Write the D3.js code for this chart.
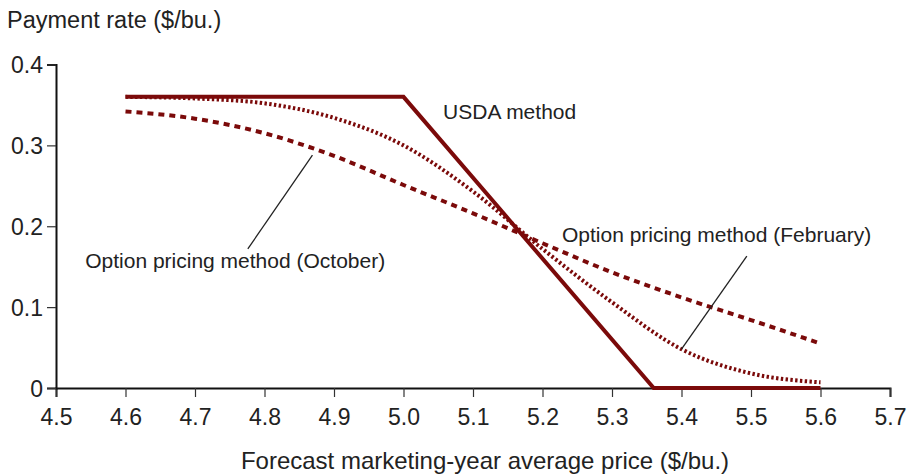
<!DOCTYPE html>
<html>
<head>
<meta charset="utf-8">
<script src="https://cdn.jsdelivr.net/npm/d3@7"></script>
<style>
  body { margin: 0; background: #fff; }
  svg { display: block; font-family: "Liberation Sans", Arial, sans-serif; }
</style>
</head>
<body>
<svg id="chart" width="908" height="474"></svg>
<script>
// data
const priceTicks = [4.5, 4.6, 4.7, 4.8, 4.9, 5.0, 5.1, 5.2, 5.3, 5.4, 5.5, 5.6, 5.7]
const rateTicks = [0, 0.1, 0.2, 0.3, 0.4]
const usdaPrice = [4.6, 5.0, 5.36, 5.6]
const usdaRate = [0.36, 0.36, 0, 0]
const optPrice = [4.6, 4.7, 4.8, 4.9, 5.0, 5.1, 5.2, 5.3, 5.4, 5.5, 5.6]
const febRate = [0.360, 0.358, 0.352, 0.334, 0.300, 0.243, 0.172, 0.106, 0.048, 0.018, 0.007]
const octRate = [0.342, 0.333, 0.315, 0.287, 0.251, 0.216, 0.179, 0.143, 0.112, 0.084, 0.055]

const width = 908
const height = 474
const margin = { top: 64.5, right: 18, bottom: 86, left: 56 }
const red = '#7b0a0a'
const ink = '#222'

const svg = d3.select('#chart')

const x = d3.scaleLinear()
  .domain([4.5, 5.7])
  .range([margin.left, width - margin.right])
const y = d3.scaleLinear()
  .domain([0, 0.4])
  .range([height - margin.bottom, margin.top])

// axes
const xAxis = svg.append('g')
  .attr('transform', `translate(0,${height - margin.bottom})`)
  .call(d3.axisBottom(x).tickValues(priceTicks).tickFormat(d3.format('.1f')).tickSize(9).tickPadding(12))
const yAxis = svg.append('g')
  .attr('transform', `translate(${margin.left},0)`)
  .call(d3.axisLeft(y).tickValues(rateTicks).tickFormat(d => d === 0 ? '0' : d3.format('.1f')(d)).tickSize(9).tickPadding(4))

;[xAxis, yAxis].forEach(g => {
  g.select('.domain').attr('stroke', '#111').attr('stroke-width', 2)
  g.selectAll('.tick line').attr('stroke', '#333').attr('stroke-width', 1.2)
  g.selectAll('.tick text')
    .attr('fill', ink)
    .attr('font-size', 23)
    .attr('font-family', '"Liberation Sans", Arial, sans-serif')
})
yAxis.selectAll('.tick text').attr('dy', '0.36em')

// lines
const line = d3.line()
  .x(d => x(d[0]))
  .y(d => y(d[1]))
const smooth = d3.line()
  .x(d => x(d[0]))
  .y(d => y(d[1]))
  .curve(d3.curveMonotoneX)

svg.append('path')
  .datum(optPrice.map((p, i) => [p, octRate[i]]))
  .attr('d', smooth)
  .attr('fill', 'none')
  .attr('stroke', red)
  .attr('stroke-width', 4)
  .attr('stroke-dasharray', '6,5')

svg.append('path')
  .datum(optPrice.map((p, i) => [p, febRate[i]]))
  .attr('d', smooth)
  .attr('fill', 'none')
  .attr('stroke', red)
  .attr('stroke-width', 4)
  .attr('stroke-dasharray', '2.4,2.4')

svg.append('path')
  .datum(usdaPrice.map((p, i) => [p, usdaRate[i]]))
  .attr('d', line)
  .attr('fill', 'none')
  .attr('stroke', red)
  .attr('stroke-width', 4)

// leader lines (data units)
const leaders = [
  [[4.869, 0.288], [4.776, 0.172]],
  [[5.400, 0.048], [5.494, 0.163]]
]
svg.selectAll('.leader')
  .data(leaders)
  .join('line')
  .attr('class', 'leader')
  .attr('x1', d => x(d[0][0]))
  .attr('y1', d => y(d[0][1]))
  .attr('x2', d => x(d[1][0]))
  .attr('y2', d => y(d[1][1]))
  .attr('stroke', '#222')
  .attr('stroke-width', 1.3)

// labels
const labels = [
  { text: 'USDA method', px: 5.057, r: 0.333 },
  { text: 'Option pricing method (February)', px: 5.228, r: 0.181 },
  { text: 'Option pricing method (October)', px: 4.542, r: 0.148 }
]
svg.selectAll('.label')
  .data(labels)
  .join('text')
  .attr('class', 'label')
  .attr('x', d => x(d.px))
  .attr('y', d => y(d.r))
  .attr('fill', ink)
  .attr('font-size', 21)
  .text(d => d.text)

// axis titles
svg.append('text')
  .attr('x', 7)
  .attr('y', 28)
  .attr('fill', ink)
  .attr('font-size', 23.5)
  .text('Payment rate ($/bu.)')

svg.append('text')
  .attr('x', 485)
  .attr('y', 469)
  .attr('text-anchor', 'middle')
  .attr('fill', ink)
  .attr('font-size', 24)
  .text('Forecast marketing-year average price ($/bu.)')
</script>
</body>
</html>
